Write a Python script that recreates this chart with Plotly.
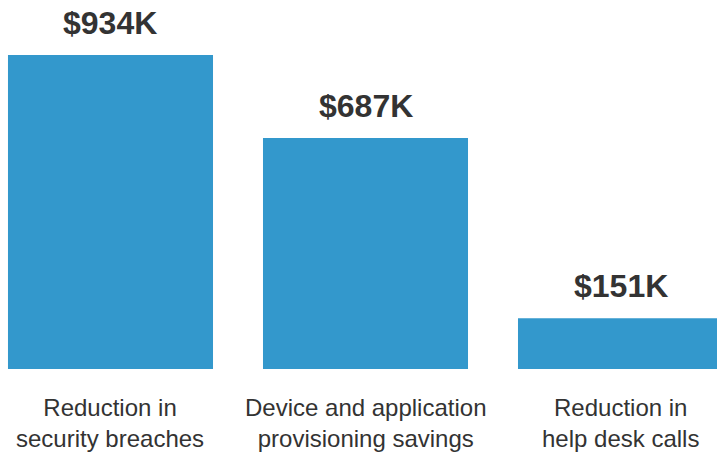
import plotly.graph_objects as go

categories = ["Reduction in<br>security breaches",
              "Device and application<br>provisioning savings",
              "Reduction in<br>help desk calls"]
values = [934, 687, 151]
value_labels = ["$934K", "$687K", "$151K"]

x_pos = list(range(len(categories)))
BAR = "#3398cc"
TXT = "#333333"

fig = go.Figure(go.Bar(x=x_pos, y=values, width=0.804, marker_color=BAR,
                       marker_line_width=0, hoverinfo="skip"))

for xi, v, lab in zip(x_pos, values, value_labels):
    fig.add_annotation(x=xi, y=v, text=f"<b>{lab}</b>", showarrow=False,
                       yanchor="bottom", yshift=12,
                       font=dict(family="Liberation Sans, Arial", size=32, color=TXT))

for xi, cat in zip(x_pos, categories):
    fig.add_annotation(x=xi, y=0, yref="y", text=cat, showarrow=False,
                       yanchor="top", yshift=-23,
                       font=dict(family="Liberation Sans, Arial", size=24, color=TXT))

fig.update_layout(
    width=717, height=453,
    margin=dict(l=0, r=0, t=0, b=84),
    paper_bgcolor="white", plot_bgcolor="white",
    showlegend=False,
    xaxis=dict(range=[-0.4333, 2.3784], visible=False, fixedrange=True),
    yaxis=dict(range=[0, 1097.5], visible=False, fixedrange=True),
)

fig.write_html(
    "out.html",
    config={"displayModeBar": False},
    post_script="document.body.style.margin='0';document.body.style.overflow='hidden';",
)
